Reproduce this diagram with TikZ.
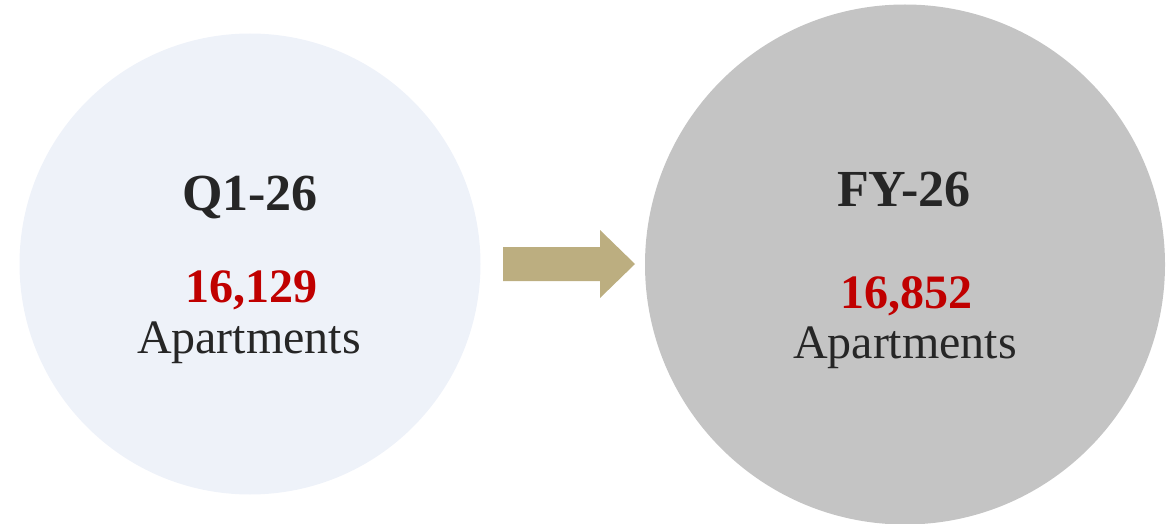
\documentclass[tikz,border=0pt]{standalone}
\usepackage{fontspec}
\setmainfont{Liberation Serif}
\definecolor{lightc}{HTML}{EEF2F9}
\definecolor{greyc}{HTML}{C4C4C4}
\definecolor{arrowc}{HTML}{BCAE80}
\definecolor{darkt}{HTML}{262626}
\definecolor{redt}{HTML}{C00000}
\tikzset{
  title/.style={anchor=base, text=darkt, font=\fontsize{52}{52}\selectfont\bfseries, inner sep=0pt},
  num/.style={anchor=base, text=redt, font=\fontsize{48}{48}\selectfont\bfseries, inner sep=0pt},
  lab/.style={anchor=base, text=darkt, font=\fontsize{48}{48}\selectfont, inner sep=0pt},
}
\begin{document}
\begin{tikzpicture}[x=1pt,y=-1pt]
\useasboundingbox (0,0) rectangle (1173,524);
\fill[lightc] (250,264) circle (230.5);
\fill[greyc] (905,264.5) circle (260);
\fill[arrowc] (503,247) -- (600,247) -- (600,230) -- (635,264) -- (600,298) -- (600,281) -- (503,281) -- cycle;
\node[title] (t1) at (250,211) {Q1-26};
\node[num] (n1) at (251,302) {16,129};
\node[lab] (l1) at (249,353) {Apartments};
\node[title] (t2) at (904,206) {FY-26};
\node[num] (n2) at (906,308) {16,852};
\node[lab] (l2) at (905,358) {Apartments};
\end{tikzpicture}
\end{document}
